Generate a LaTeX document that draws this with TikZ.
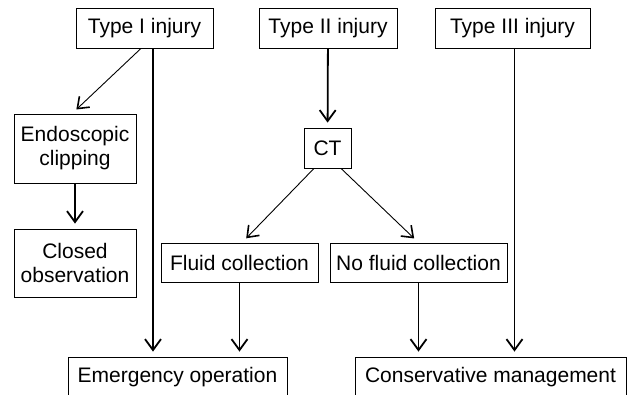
\documentclass[tikz,border=0pt]{standalone}
\usepackage{fontspec}
\setmainfont{Liberation Sans}
\usetikzlibrary{arrows.meta}

\begin{document}
\begin{tikzpicture}[x=1pt,y=-1pt,
  box/.style={draw,line width=0.8pt,inner sep=0pt,align=center,
    font=\fontsize{21}{24}\selectfont},
  arr/.style={line width=1.8pt,-{Straight Barb[length=11pt,width=16pt]},shorten >=5pt},
  thin arr/.style={line width=0.9pt,-{Straight Barb[length=10pt,width=15pt,line width=1.6pt]},shorten >=6pt}]

\useasboundingbox (0,0) rectangle (628,394);
\clip (0,0) rectangle (628,394);

\node[box,minimum width=137pt,minimum height=40pt] (t1) at (144.5,28) {Type I injury};
\node[box,minimum width=138pt,minimum height=40pt] (t2) at (328,28)   {Type II injury};
\node[box,minimum width=155pt,minimum height=40pt] (t3) at (512.5,28) {Type III injury};

\node[box,minimum width=47pt,minimum height=40pt] (ct) at (327.5,148) {CT};

\node[box,minimum width=122pt,minimum height=69pt] (endo)   at (75,148.5) {Endoscopic\\clipping};
\node[box,minimum width=122pt,minimum height=68pt] (closed) at (75,263)   {Closed\\observation};

\node[box,minimum width=157pt,minimum height=39pt] (fluid)   at (239.5,262.5) {Fluid collection};
\node[box,minimum width=177pt,minimum height=39pt] (nofluid) at (418.5,262.5) {No fluid collection};

\node[box,minimum width=219pt,minimum height=40pt] (emerg) at (177.5,377) {Emergency operation};
\node[box,minimum width=271pt,minimum height=40pt] (cons)  at (490.5,377) {Conservative management};

\draw [thin arr] ([xshift=-3.5pt]t1.south) -- ([xshift=-3pt]endo.north);
\draw [arr] ([xshift=8.5pt]t1.south) -- ([xshift=8.5pt]t1.south |- emerg.north);
\draw [arr] (endo) -- (closed);

\draw [arr] (t2) -- (ct);
\draw [thin arr] ([xshift=-13.5pt]ct.south) -- ([xshift=2.5pt]fluid.north);
\draw [thin arr] ([xshift=13.5pt]ct.south)  -- (nofluid.north);

\draw [arr] (fluid.south) -- (fluid.south |- emerg.north);
\draw [arr] (nofluid.south) -- (nofluid.south |- cons.north);
\draw [arr] ([xshift=2pt]t3.south) -- ([xshift=2pt]t3.south |- cons.north);

\end{tikzpicture}
\end{document}
